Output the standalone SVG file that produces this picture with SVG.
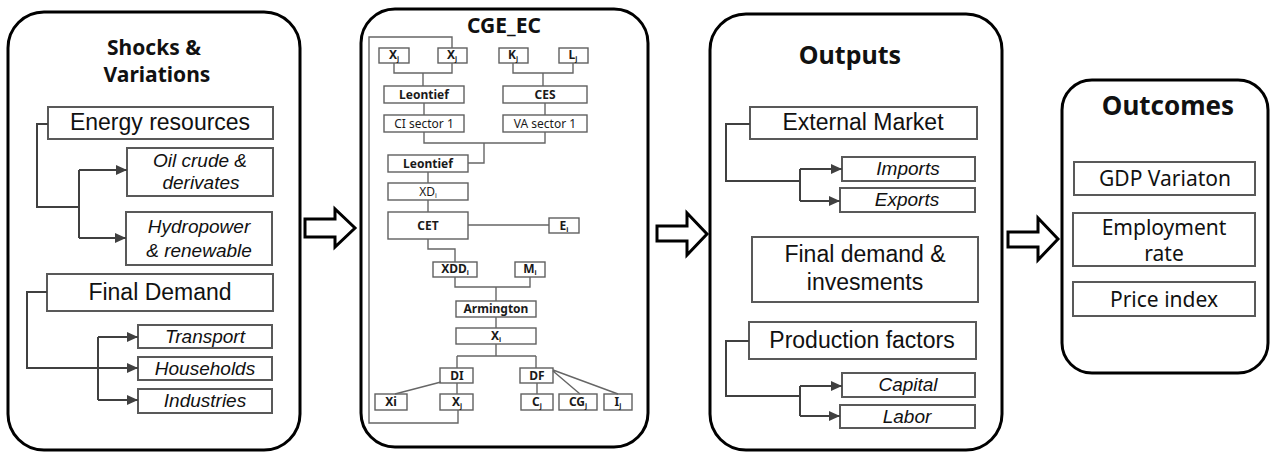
<svg xmlns="http://www.w3.org/2000/svg" width="1271" height="452" viewBox="0 0 1271 452">
<style>
.panel{fill:#fff;stroke:#000;stroke-width:3}
.box{fill:#fff;stroke:#595959;stroke-width:2}
.cbox{fill:#fff;stroke:#606060;stroke-width:1.4}
.title{font-family:"Noto Sans","Open Sans",sans-serif;font-weight:bold;fill:#111;text-anchor:middle}
.t{font-family:"Liberation Sans",Arial,sans-serif;font-size:23px;fill:#111;text-anchor:middle}
.ti{font-family:"Liberation Sans",Arial,sans-serif;font-size:19px;font-style:italic;fill:#111;text-anchor:middle}
.o{font-family:"Noto Sans","Open Sans",sans-serif;font-size:21px;fill:#111;text-anchor:middle}
.cb{font-family:"Noto Sans","Open Sans",sans-serif;font-size:12px;font-weight:bold;fill:#1a1a1a;text-anchor:middle}
.cr{font-family:"Noto Sans","Open Sans",sans-serif;font-size:12px;fill:#1a1a1a;text-anchor:middle}
.sub{font-size:7px}
.conn{fill:none;stroke:#404040;stroke-width:2}
.arr{fill:none;stroke:#404040;stroke-width:2;marker-end:url(#ah)}
.cl{fill:none;stroke:#666;stroke-width:1.4}
.block{fill:#fff;stroke:#000;stroke-width:3;stroke-linejoin:miter}
</style>
<defs>
<marker id="ah" markerUnits="userSpaceOnUse" markerWidth="11" markerHeight="10" refX="11" refY="5" orient="auto">
<path d="M0,0 L11,5 L0,10 z" fill="#404040"/>
</marker>
</defs>

<g id="panel-shocks">
<rect class="panel" x="8" y="12" width="292" height="438" rx="36"/>
<text class="title" x="154" y="55" font-size="21">Shocks &amp;</text>
<text class="title" x="157" y="82" font-size="21">Variations</text>
</g>
<g id="energy-resources"><rect class="box" x="48" y="107" width="225" height="32"/><text class="t" x="160" y="130">Energy resources</text></g>
<g id="oil-crude"><rect class="box" x="127" y="148" width="146" height="48"/><text class="ti" x="200" y="167">Oil crude &amp;</text><text class="ti" x="201" y="189">derivates</text></g>
<g id="hydropower"><rect class="box" x="126" y="212" width="146" height="53"/><text class="ti" x="199" y="233">Hydropower</text><text class="ti" x="199" y="257">&amp; renewable</text></g>
<g id="final-demand"><rect class="box" x="47" y="274" width="226" height="37"/><text class="t" x="160" y="300">Final Demand</text></g>
<g id="transport"><rect class="box" x="138" y="325" width="134" height="23"/><text class="ti" x="205" y="343">Transport</text></g>
<g id="households"><rect class="box" x="138" y="357" width="134" height="23"/><text class="ti" x="205" y="375">Households</text></g>
<g id="industries"><rect class="box" x="138" y="389" width="134" height="24"/><text class="ti" x="205" y="407">Industries</text></g>

<g id="panel-cge">
<rect class="panel" x="361" y="9" width="287" height="438" rx="34"/>
<text class="title" x="504" y="33" font-size="21">CGE_EC</text>
</g>
<g id="cge-xj1"><rect class="cbox" x="379" y="48" width="30" height="15"/><text class="cb" x="394" y="59" font-size="11">X<tspan class="sub" dy="2">j</tspan></text></g>
<g id="cge-xj2"><rect class="cbox" x="438" y="48" width="29" height="15"/><text class="cb" x="452" y="59" font-size="11">X<tspan class="sub" dy="2">j</tspan></text></g>
<g id="cge-kj"><rect class="cbox" x="499" y="48" width="29" height="15"/><text class="cb" x="513" y="59" font-size="11">K<tspan class="sub" dy="2">j</tspan></text></g>
<g id="cge-lj"><rect class="cbox" x="559" y="48" width="29" height="15"/><text class="cb" x="573" y="59" font-size="11">L<tspan class="sub" dy="2">j</tspan></text></g>
<g id="cge-leontief1"><rect class="cbox" x="384" y="86" width="80" height="17"/><text class="cb" x="424" y="99">Leontief</text></g>
<g id="cge-ces"><rect class="cbox" x="503" y="86" width="84" height="17"/><text class="cb" x="545" y="99">CES</text></g>
<g id="cge-ci"><rect class="cbox" x="384" y="115" width="80" height="17"/><text class="cr" x="424" y="128">CI sector 1</text></g>
<g id="cge-va"><rect class="cbox" x="503" y="115" width="84" height="17"/><text class="cr" x="545" y="128">VA sector 1</text></g>
<g id="cge-leontief2"><rect class="cbox" x="388" y="155" width="80" height="17"/><text class="cb" x="428" y="168">Leontief</text></g>
<g id="cge-xdi"><rect class="cbox" x="388" y="183" width="80" height="17"/><text class="cr" x="428" y="196" font-size="11">XD<tspan class="sub" dy="2">i</tspan></text></g>
<g id="cge-cet"><rect class="cbox" x="388" y="212" width="80" height="27"/><text class="cb" x="428" y="230" font-size="13">CET</text></g>
<g id="cge-ei"><rect class="cbox" x="549" y="218" width="30" height="15"/><text class="cb" x="564" y="230" font-size="11">E<tspan class="sub" dy="2">i</tspan></text></g>
<g id="cge-xddi"><rect class="cbox" x="433" y="262" width="44" height="15"/><text class="cb" x="455" y="273" font-size="11">XDD<tspan class="sub" dy="2">i</tspan></text></g>
<g id="cge-mi"><rect class="cbox" x="515" y="262" width="30" height="15"/><text class="cb" x="530" y="273" font-size="11">M<tspan class="sub" dy="2">i</tspan></text></g>
<g id="cge-armington"><rect class="cbox" x="456" y="301" width="80" height="16"/><text class="cb" x="496" y="313">Armington</text></g>
<g id="cge-xi"><rect class="cbox" x="456" y="328" width="80" height="16"/><text class="cb" x="496" y="340" font-size="13">X<tspan class="sub" dy="2">i</tspan></text></g>
<g id="cge-di"><rect class="cbox" x="440" y="368" width="33" height="15"/><text class="cb" x="457" y="380" font-size="11">DI</text></g>
<g id="cge-df"><rect class="cbox" x="520" y="368" width="33" height="15"/><text class="cb" x="537" y="380" font-size="11">DF</text></g>
<g id="cge-xi-b"><rect class="cbox" x="375" y="394" width="32" height="16"/><text class="cb" x="391" y="406" font-size="11">Xi</text></g>
<g id="cge-xj3"><rect class="cbox" x="440" y="394" width="33" height="16"/><text class="cb" x="457" y="406" font-size="11">X<tspan class="sub" dy="2">j</tspan></text></g>
<g id="cge-cj"><rect class="cbox" x="521" y="394" width="32" height="16"/><text class="cb" x="537" y="406" font-size="11">C<tspan class="sub" dy="2">j</tspan></text></g>
<g id="cge-cgj"><rect class="cbox" x="559" y="394" width="38" height="16"/><text class="cb" x="578" y="406" font-size="11">CG<tspan class="sub" dy="2">j</tspan></text></g>
<g id="cge-ij"><rect class="cbox" x="604" y="394" width="28" height="16"/><text class="cb" x="618" y="406" font-size="11">I<tspan class="sub" dy="2">j</tspan></text></g>

<g id="panel-outputs">
<rect class="panel" x="710" y="14" width="292" height="436" rx="36"/>
<text class="title" x="850" y="64" font-size="25">Outputs</text>
</g>
<g id="external-market"><rect class="box" x="750" y="107" width="227" height="32"/><text class="t" x="863" y="130">External Market</text></g>
<g id="imports"><rect class="box" x="842" y="157" width="133" height="24"/><text class="ti" x="908" y="175">Imports</text></g>
<g id="exports"><rect class="box" x="840" y="188" width="135" height="24"/><text class="ti" x="907" y="206">Exports</text></g>
<g id="final-demand-inv"><rect class="box" x="752" y="237" width="226" height="65"/><text class="t" x="865" y="262">Final demand &amp;</text><text class="t" x="865" y="290">invesments</text></g>
<g id="production-factors"><rect class="box" x="749" y="322" width="227" height="37"/><text class="t" x="862" y="348">Production factors</text></g>
<g id="capital"><rect class="box" x="842" y="373" width="133" height="24"/><text class="ti" x="908" y="391">Capital</text></g>
<g id="labor"><rect class="box" x="840" y="405" width="135" height="23"/><text class="ti" x="907" y="423">Labor</text></g>

<g id="panel-outcomes">
<rect class="panel" x="1062" y="80" width="206" height="293" rx="30"/>
<text class="title" x="1168" y="115" font-size="26">Outcomes</text>
</g>
<g id="gdp"><rect class="box" x="1074" y="162" width="181" height="33"/><text class="o" x="1165" y="186">GDP Variaton</text></g>
<g id="employment"><rect class="box" x="1073" y="213" width="182" height="53"/><text class="o" x="1164" y="235">Employment</text><text class="o" x="1164" y="261">rate</text></g>
<g id="price"><rect class="box" x="1073" y="282" width="182" height="34"/><text class="o" x="1164" y="307">Price index</text></g>

<g id="connectors">
<polyline class="conn" points="48,124 37,124 37,207 79,207"/>
<path class="conn" d="M79,170 V238"/>
<path class="arr" d="M79,170 H127"/>
<path class="arr" d="M79,238 H126"/>
<polyline class="arr" points="47,292 27,292 27,368 138,368"/>
<path class="conn" d="M98,337 V400"/>
<path class="arr" d="M98,337 H138"/>
<path class="arr" d="M98,400 H138"/>

<polyline class="conn" points="750,124 726,124 726,181 800,181"/>
<path class="conn" d="M800,169 V201"/>
<path class="arr" d="M800,169 H842"/>
<path class="arr" d="M800,201 H840"/>
<polyline class="conn" points="749,341 726,341 726,396 800,396"/>
<path class="conn" d="M800,386 V416"/>
<path class="arr" d="M800,386 H842"/>
<path class="arr" d="M800,416 H840"/>

<polyline class="cl" points="452,48 452,37 369,37 369,423 458,423 458,410"/>
<polyline class="cl" points="394,63 394,73 452,73 452,63"/>
<path class="cl" d="M423,73 V86"/>
<polyline class="cl" points="513,63 513,73 573,73 573,63"/>
<path class="cl" d="M543,73 V86"/>
<path class="cl" d="M424,103 V115 M545,103 V115"/>
<polyline class="cl" points="424,132 424,143 545,143 545,132"/>
<polyline class="cl" points="484,143 484,163 468,163"/>
<path class="cl" d="M428,172 V183 M428,200 V212 M468,225 H549"/>
<polyline class="cl" points="428,239 428,249 455,249 455,262"/>
<polyline class="cl" points="455,277 455,287 530,287 530,277"/>
<path class="cl" d="M496,287 V301 M496,317 V328 M496,344 V356 M457,356 H536 M457,356 V368 M536,356 V368"/>
<path class="cl" d="M441,382 L395,394 M457,383 V394 M537,383 V394 M553,371 L580,394 M553,370 L618,394"/>

<polygon class="block" points="305,219 335,219 335,209 355,228 335,247 335,237 305,237"/>
<polygon class="block" points="657,226 687,226 687,213 707,234 687,255 687,241 657,241"/>
<polygon class="block" points="1008,232 1038,232 1038,218 1058,239 1038,260 1038,247 1008,247"/>
</g>
</svg>
